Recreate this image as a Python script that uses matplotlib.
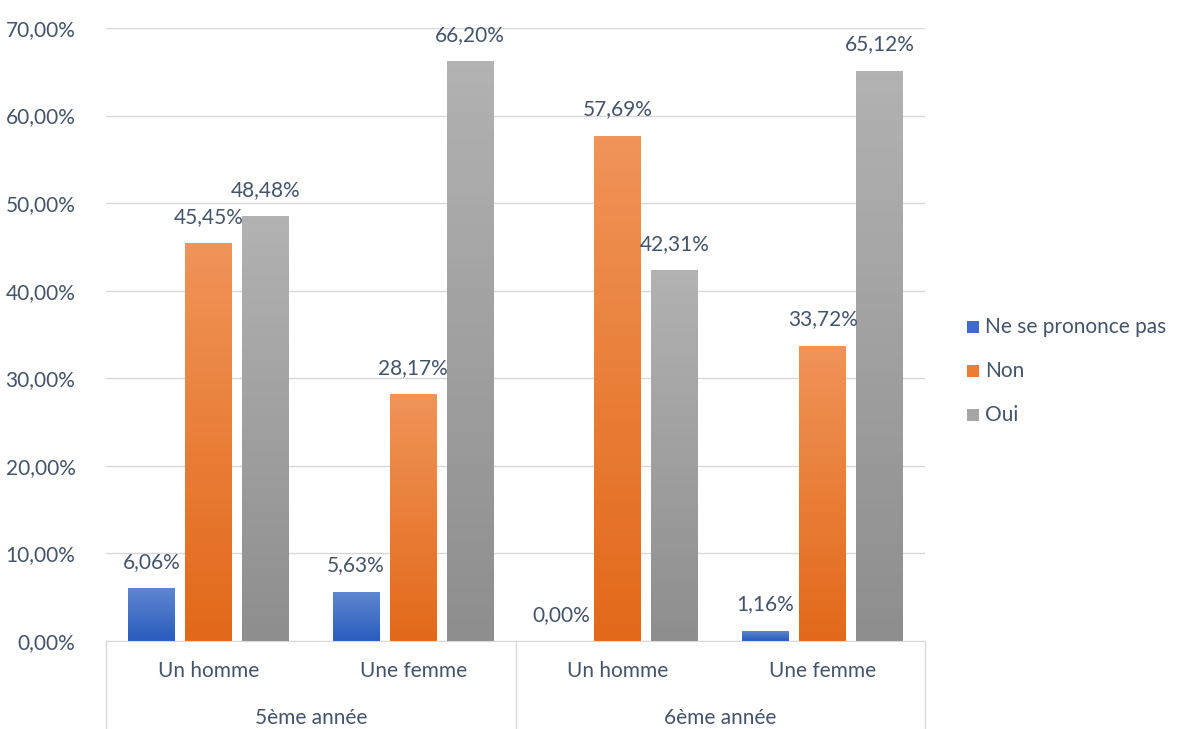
import numpy as np
import matplotlib
matplotlib.use("Agg")
import matplotlib.pyplot as plt
from matplotlib.colors import LinearSegmentedColormap
from matplotlib.patches import Rectangle

plt.rcParams['font.family'] = ['Lato', 'DejaVu Sans']

categories = ["Un homme", "Une femme", "Un homme", "Une femme"]
groups = ["5ème année", "6ème année"]
series = ["Ne se prononce pas", "Non", "Oui"]
values = {
    "Ne se prononce pas": [6.06, 5.63, 0.00, 1.16],
    "Non": [45.45, 28.17, 57.69, 33.72],
    "Oui": [48.48, 66.20, 42.31, 65.12],
}
yticks = [0, 10, 20, 30, 40, 50, 60, 70]

grad = {
    "Ne se prononce pas": ("#2b5cbd", "#5f87d2"),
    "Non": ("#e2691a", "#f09458"),
    "Oui": ("#8e8e8e", "#b2b2b2"),
}
legend_col = {"Ne se prononce pas": "#3f6cc8", "Non": "#ed7d31", "Oui": "#a5a5a5"}
txt = "#44546a"
FS = 15

W, H = 1179, 729
fig = plt.figure(figsize=(W/100, H/100), dpi=100)
ax = fig.add_axes([106/W, 1-641/H, (925-106)/W, (641-28)/H])

bw = 47/204.75
step = 57/204.75
x = np.arange(4) + 0.5
for i, s in enumerate(series):
    cmap = LinearSegmentedColormap.from_list(s, grad[s])
    for xi, v in zip(x + (i-1)*step, values[s]):
        r = Rectangle((xi-bw/2, 0), bw, v, facecolor='none', edgecolor='none')
        ax.add_patch(r)
        if v > 0:
            im = ax.imshow(np.linspace(0, 1, 100).reshape(-1, 1), cmap=cmap, origin='lower',
                           extent=(xi-bw/2, xi+bw/2, 0, v), aspect='auto', zorder=2)
            im.set_clip_path(r)
        ax.text(xi, v + 3.0, f"{v:.2f}%".replace('.', ','), ha='center', va='center',
                fontsize=FS, color=txt, zorder=3)

ax.set_xlim(0, 4)
ax.set_ylim(0, 70)
ax.set_yticks(yticks)
ax.set_yticklabels([f"{t:.2f}%".replace('.', ',') for t in yticks], fontsize=FS, color=txt)
ax.tick_params(axis='y', length=0, pad=22)
ax.tick_params(axis='x', length=0, labelbottom=False)
ax.grid(axis='y', color='#d9d9d9', linewidth=1)
ax.set_axisbelow(True)
for sp in ['top', 'right', 'left']:
    ax.spines[sp].set_visible(False)
ax.spines['bottom'].set_color('#d9d9d9')

# category labels
for xi, c in zip(x, categories):
    fig.text((106 + xi*204.75)/W, 1-671/H, c, ha='center', va='center', fontsize=FS, color=txt)
for gi, g in enumerate(groups):
    fig.text((106 + (1+2*gi)*204.75)/W, 1-718/H, g, ha='center', va='center', fontsize=FS, color=txt)
for px in [106, 515.5, 925]:
    fig.add_artist(plt.Line2D([px/W, px/W], [0, 1-641/H], color='#d9d9d9', linewidth=1))

# legend
for j, s in enumerate(series):
    yy = 1 - (327 + 44*j)/H
    fig.add_artist(Rectangle((967/W, yy - 6/H), 12/W, 12/H, facecolor=legend_col[s], edgecolor='none'))
    fig.text(985/W, yy, s, ha='left', va='center', fontsize=FS, color=txt)

fig.savefig("out.png", dpi=100)
